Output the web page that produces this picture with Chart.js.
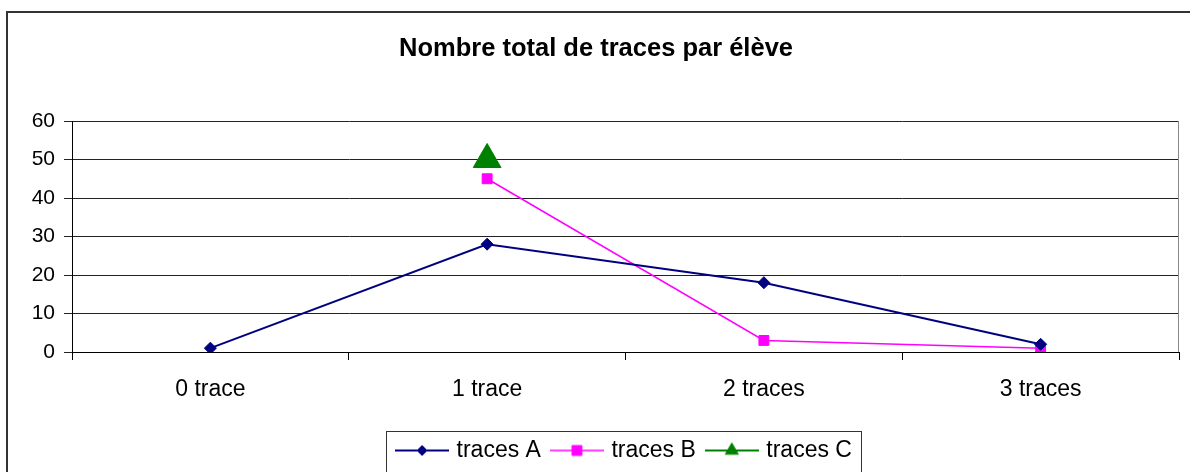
<!DOCTYPE html>
<html>
<head>
<meta charset="utf-8">
<script src="https://cdn.jsdelivr.net/npm/chart.js@4/dist/chart.umd.min.js"></script>
<style>
  html, body { margin: 0; padding: 0; background: #fff; }
  canvas { display: block; }
</style>
</head>
<body>
<canvas id="tracesChart" width="1190" height="472"></canvas>
<script>
var categories = ["0 trace", "1 trace", "2 traces", "3 traces"];
var tracesA = [1, 28, 18, 2];
var tracesB = [null, 45, 3, 1];
var tracesC = [null, 50, null, null];
var yTicks = [0, 10, 20, 30, 40, 50, 60];

var fontFamily = "'Liberation Sans', Arial, sans-serif";
var legendFontSize = 23;
Chart.defaults.color = "#000";
Chart.defaults.font.family = fontFamily;

// little line + marker picture for the legend, like the office legend
function legendPicture(color, style, radius, lineWidth) {
  var c = document.createElement("canvas");
  c.width = 54;
  c.height = 22;
  var ctx = c.getContext("2d");
  ctx.strokeStyle = color;
  ctx.fillStyle = color;
  ctx.lineWidth = lineWidth;
  ctx.beginPath();
  ctx.moveTo(0, 11);
  ctx.lineTo(54, 11);
  ctx.stroke();
  ctx.lineWidth = 1;
  Chart.helpers.drawPoint(ctx, { pointStyle: style, radius: radius, borderWidth: 1, rotation: 0 }, 27, 11);
  return c;
}

var pictures = [
  legendPicture("#000080", "rectRot", 5, 2),
  legendPicture("#ff00ff", "rect", 7, 1.5),
  legendPicture("#008000", "triangle", 7.5, 2)
];

var framePlugin = {
  id: "frame",
  afterUpdate: function (chart) {
    // centre the legend under the plot area, nudge the title a bit
    var l = chart.legend;
    var shift = (chart.chartArea.left + chart.chartArea.right) / 2 - (l.left + l.right) / 2;
    l.left += shift;
    l.right += shift;
    var t = chart.titleBlock;
    if (t) {
      var tshift = chart.width / 2 + 1 - (t.left + t.right) / 2;
      t.left += tshift;
      t.right += tshift;
    }
  },
  beforeDraw: function (chart) {
    var ctx = chart.ctx;
    ctx.save();
    ctx.fillStyle = "#fff";
    ctx.fillRect(0, 0, chart.width, chart.height);
    ctx.strokeStyle = "#333";
    ctx.lineWidth = 2;
    ctx.strokeRect(7, 12, chart.width + 20, chart.height + 20);
    ctx.restore();
  },
  beforeDatasetsDraw: function (chart) {
    var a = chart.chartArea;
    var ctx = chart.ctx;
    ctx.save();
    ctx.strokeStyle = "#888";
    ctx.lineWidth = 1;
    ctx.beginPath();
    ctx.moveTo(Math.round(a.right) - 0.5, a.top);
    ctx.lineTo(Math.round(a.right) - 0.5, a.bottom);
    ctx.stroke();
    ctx.restore();
  },
  afterDraw: function (chart) {
    var l = chart.legend;
    if (!l || !l.lineWidths) return;
    var pad = l.options.labels.padding;
    var lw = l.lineWidths[0];
    var start = (l.left + pad + l.right - lw) / 2;
    var end = start + lw - pad;
    var mid = l.top + pad + legendFontSize / 2;
    var ctx = chart.ctx;
    ctx.save();
    ctx.strokeStyle = "#333";
    ctx.lineWidth = 1;
    var x0 = Math.round(start - 13) + 0.5;
    var x1 = Math.round(end + 9) + 0.5;
    ctx.strokeRect(x0, Math.round(mid - 20) + 0.5, x1 - x0, 41);
    ctx.restore();
  }
};

new Chart("tracesChart", {
  type: "line",
  data: {
    labels: categories,
    datasets: [{
      label: "traces A",
      data: tracesA,
      borderColor: "#000080",
      backgroundColor: "#000080",
      borderWidth: 2,
      pointStyle: "rectRot",
      pointRadius: 6,
      pointBorderWidth: 1,
      tension: 0
    }, {
      label: "traces B",
      data: tracesB,
      borderColor: "#ff00ff",
      backgroundColor: "#ff00ff",
      borderWidth: 1.5,
      pointStyle: "rect",
      pointRadius: 7,
      pointBorderWidth: 1,
      tension: 0
    }, {
      label: "traces C",
      data: tracesC,
      borderColor: "#008000",
      backgroundColor: "#008000",
      borderWidth: 2,
      pointStyle: "triangle",
      // big marker only where there is a value (keeps the layout margin small)
      pointRadius: function (c) { return c.raw == null ? 0 : 16; },
      pointBorderWidth: 1,
      tension: 0
    }]
  },
  options: {
    responsive: false,
    animation: false,
    layout: { padding: { left: 0, top: 20, right: 11, bottom: 0 } },
    plugins: {
      title: {
        display: true,
        text: "Nombre total de traces par élève",
        font: { size: 25.5, weight: "bold", family: fontFamily },
        color: "#000",
        padding: { top: 14, bottom: 56.4 }
      },
      legend: {
        display: true,
        position: "bottom",
        labels: {
          usePointStyle: true,
          pointStyleWidth: 46,
          padding: 13,
          color: "#000",
          font: { size: legendFontSize, family: fontFamily },
          generateLabels: function (chart) {
            var items = Chart.defaults.plugins.legend.labels.generateLabels(chart);
            items.forEach(function (item, i) {
              item.pointStyle = pictures[i];
            });
            return items;
          }
        }
      },
      tooltip: { enabled: false }
    },
    scales: {
      x: {
        offset: true,
        grid: {
          offset: true,
          drawOnChartArea: false,
          drawTicks: true,
          tickLength: 8,
          color: "#000"
        },
        border: { color: "#000", width: 1 },
        ticks: {
          padding: 16,
          color: "#000",
          font: { size: 23, family: fontFamily }
        },
        afterFit: function (scale) {
          scale.height = 74;
          scale.paddingLeft = 0;
          scale.paddingRight = 0;
        }
      },
      y: {
        min: yTicks[0],
        max: yTicks[yTicks.length - 1],
        grid: {
          color: "#222",
          lineWidth: 1,
          drawTicks: true,
          tickLength: 8
        },
        border: { color: "#000", width: 1 },
        ticks: {
          stepSize: yTicks[1] - yTicks[0],
          padding: 9,
          color: "#000",
          font: { size: 21, family: fontFamily }
        },
        afterFit: function (scale) { scale.width = 72; }
      }
    }
  },
  plugins: [framePlugin]
});
</script>
</body>
</html>
